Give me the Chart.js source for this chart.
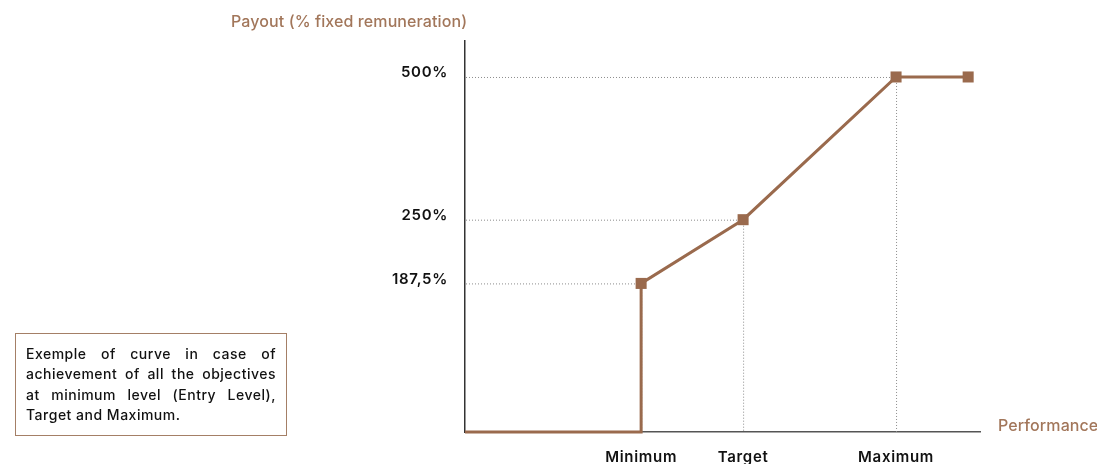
<!DOCTYPE html>
<html>
<head>
<meta charset="utf-8">
<script src="https://cdn.jsdelivr.net/npm/chart.js@4.4.1/dist/chart.umd.min.js"></script>
<style>
  body { margin: 0; background: #fff; }
  #wrap { position: relative; width: 1097px; height: 464px; }
  #note {
    position: absolute; left: 15px; top: 333px; width: 250px; height: 81px;
    border: 1px solid #a47f66; padding: 10px 10px 10px 10px;
    font-family: Inter, "Noto Sans", sans-serif; font-size: 14px; font-weight: 500;
    letter-spacing: 0.5px;
    line-height: 20.4px; color: #111; text-align: justify;
  }
</style>
</head>
<body>
<div id="wrap">
  <canvas id="curva" width="1097" height="464"></canvas>
  <div id="note">Exemple of curve in case of achievement of all the objectives at minimum level (Entry Level), Target and Maximum.</div>
</div>
<script>
// Datos de la curva (performance esquematica 0-100, payout en %)
var performance = [0, 34.2, 34.2, 54, 83.7, 97.7];
var payout = [0, 0, 187.5, 250, 500, 500];
var marcadores = [false, false, true, true, true, true];

var xTicks = [34.2, 54, 83.7];
var xLabels = ["Minimum", "Target", "Maximum"];
var yTicks = [187.5, 250, 500];
var yLabels = ["187,5%", "250%", "500%"];

var marron = "#9a6a4d";
var fuente = "Inter, 'Noto Sans', sans-serif";

// Escala esquematica: el eje Y del original no es lineal
var tramos = [[0, 0], [187.5, 0.38], [250, 0.543], [500, 0.908], [550, 1]];
class SchematicScale extends Chart.LinearScale {
  getPixelForValue(value) {
    var f = 0;
    for (var i = 1; i < tramos.length; i++) {
      if (value <= tramos[i][0] || i == tramos.length - 1) {
        var a = tramos[i - 1], b = tramos[i];
        f = a[1] + (value - a[0]) / (b[0] - a[0]) * (b[1] - a[1]);
        break;
      }
    }
    return this.getPixelForDecimal(f);
  }
  getValueForPixel(pixel) {
    var f = this.getDecimalForPixel(pixel);
    for (var i = 1; i < tramos.length; i++) {
      if (f <= tramos[i][1] || i == tramos.length - 1) {
        var a = tramos[i - 1], b = tramos[i];
        return a[0] + (f - a[1]) / (b[1] - a[1]) * (b[0] - a[0]);
      }
    }
    return 0;
  }
}
SchematicScale.id = "schematic";
SchematicScale.defaults = Chart.LinearScale.defaults;
Chart.register(SchematicScale);

var puntos = [];
for (var i = 0; i < performance.length; i++) {
  puntos.push({x: performance[i], y: payout[i]});
}

// Lineas punteadas de referencia y titulos de los ejes
var extras = {
  id: "extras",
  beforeDraw: function(chart) {
    chart.ctx.letterSpacing = "0.7px";
  },
  beforeDatasetsDraw: function(chart) {
    var ctx = chart.ctx, xs = chart.scales.x, ys = chart.scales.y;
    var area = chart.chartArea;
    ctx.save();
    ctx.strokeStyle = "#8c8c8c";
    ctx.lineWidth = 1;
    ctx.setLineDash([1, 2]);
    for (var i = 2; i < 5; i++) {
      var px = xs.getPixelForValue(performance[i]);
      var py = ys.getPixelForValue(payout[i]);
      ctx.beginPath();
      ctx.moveTo(area.left + 1, py + 0.5);
      ctx.lineTo(px, py + 0.5);
      ctx.moveTo(px + 0.5, py);
      ctx.lineTo(px + 0.5, area.bottom);
      ctx.stroke();
    }
    ctx.restore();
  },
  afterDraw: function(chart) {
    var ctx = chart.ctx;
    ctx.save();
    ctx.letterSpacing = "0.1px";
    ctx.fillStyle = "#a2765a";
    ctx.font = "500 16px " + fuente;
    ctx.textBaseline = "middle";
    ctx.textAlign = "left";
    ctx.fillText("Payout (% fixed remuneration)", 231, 22);
    ctx.fillText("Performance", 998, 426);
    ctx.restore();
  }
};

var config = {
  type: "line",
  data: {
    datasets: [{
      data: puntos,
      borderColor: marron,
      borderWidth: 3,
      backgroundColor: marron,
      pointStyle: "rect",
      pointRadius: marcadores.map(function(m) { return m ? 7.8 : 0; }),
      pointBorderWidth: 0,
      tension: 0,
      clip: false
    }]
  },
  options: {
    responsive: false,
    animation: false,
    layout: { padding: { left: 0, right: 117, top: 41, bottom: 0 } },
    plugins: { legend: { display: false }, tooltip: { enabled: false } },
    scales: {
      x: {
        type: "linear",
        min: 0, max: 100,
        grid: { display: false, drawTicks: false },
        border: { color: "#555", width: 1.5 },
        afterBuildTicks: function(scale) {
          scale.ticks = xTicks.map(function(v) { return {value: v}; });
        },
        afterFit: function(scale) { scale.height = 32; },
        ticks: {
          padding: 16,
          maxRotation: 0,
          autoSkip: false,
          color: "#111",
          font: { family: fuente, size: 15, weight: "600" },
          callback: function(v) { return xLabels[xTicks.indexOf(v)]; }
        }
      },
      y: {
        type: "schematic",
        min: 0, max: 550,
        grid: { display: false, drawTicks: false },
        border: { color: "#333", width: 1.5 },
        afterBuildTicks: function(scale) {
          scale.ticks = yTicks.map(function(v) { return {value: v}; });
        },
        afterFit: function(scale) { scale.width = 465; },
        ticks: {
          padding: 17,
          labelOffset: -4,
          autoSkip: false,
          color: "#111",
          font: { family: fuente, size: 15, weight: "600" },
          callback: function(v) { return yLabels[yTicks.indexOf(v)]; }
        }
      }
    }
  },
  plugins: [extras]
};

var ctx = document.getElementById("curva");
window.curva = new Chart(ctx, config);
</script>
</body>
</html>
